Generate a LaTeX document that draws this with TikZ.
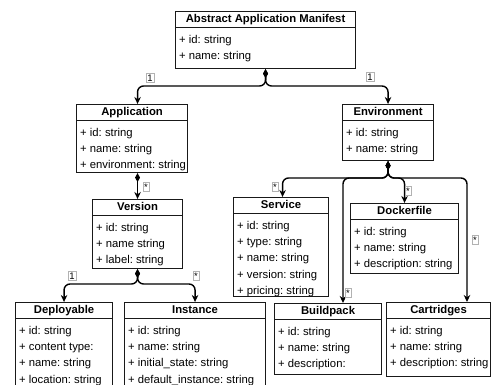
\documentclass[tikz,border=0pt]{standalone}
\usepackage{fontspec}
\setmainfont{Liberation Sans}
\usetikzlibrary{arrows.meta,calc}
\frenchspacing
\tikzset{
 classbox/.style={draw=black!90, line width=1.1pt, anchor=north west, inner sep=0pt, fill=white},
 divline/.style={draw=black!90, line width=1pt},
 ttl/.style={font=\fontsize{11.3}{13}\selectfont\bfseries, inner sep=0pt, text height=8.2pt, text depth=2.4pt},
 attr/.style={font=\fontsize{11.3}{13}\selectfont, inner sep=0pt, anchor=west, text height=8.2pt, text depth=2.4pt},
 conn/.style={line width=1.4pt, rounded corners=6pt, {Diamond[length=9pt,width=5pt]}-{Stealth[length=7pt,width=6.5pt]}},
 mult/.style={draw=black!30, line width=0.4pt, inner sep=1.2pt, font=\fontsize{9.5}{10}\selectfont, fill=white},
}
\newcommand\umlclass[7]{%
 \node[classbox, minimum width=#4pt, minimum height=#5pt] (#1) at (#2,#3) {};
 \draw[divline] ($(#1.north west)+(0,17)$) -- ($(#1.north east)+(0,17)$);
 \node[ttl] (#1-t) at ($(#1.north)+(0,8.7)$) {#6};
 \foreach \r [count=\i, evaluate=\i as \yy using 29.3+(\i-1)*16.3] in {#7}
   \node[attr] (#1-\i) at ($(#1.north west)+(4,\yy)$) {\r};
}
\begin{document}
\begin{tikzpicture}[x=1pt,y=-1pt]
\useasboundingbox (0,0) rectangle (491,385);
\clip (0,0) rectangle (491,385);
% classes
\umlclass{abs}{175}{11}{180}{57}{Abstract Application Manifest}{+ id: string,+ name: string}
\umlclass{app}{76}{104}{111}{68}{Application}{+ id: string,+ name: string,+ environment: string}
\umlclass{env}{342}{104}{91}{56}{Environment}{+ id: string,+ name: string}
\umlclass{ver}{92}{199}{90}{69}{Version}{+ id: string,+ name string,+ label: string}
\umlclass{svc}{233}{197}{95}{99}{Service}{+ id: string,+ type: string,+ name: string,+ version: string,+ pricing: string}
\umlclass{dock}{350}{203}{108}{70}{Dockerfile}{+ id: string,+ name: string,+ description: string}
\umlclass{dep}{15}{302}{97}{100}{Deployable}{+ id: string,+ content type:,+ name: string,+ location: string}
\umlclass{inst}{124}{302}{141}{100}{Instance}{+ id: string,+ name: string,+ initial\_state: string,+ default\_instance: string}
\umlclass{build}{274}{303}{107}{71}{Buildpack}{+ id: string,+ name: string,+ description:}
\umlclass{cart}{386}{302}{104}{74}{Cartridges}{+ id: string,+ name: string,+ description: string}
% connectors
\draw[conn] (abs.south) -- (abs.south |- 0,86) -| (ver.north |- app.north);
\draw[conn] (abs.south) -- (abs.south |- 0,86) -| (env.north);
\draw[conn] (ver.north |- app.south) -- (ver.north);
\draw[conn] (ver.south) -- (ver.south |- 0,284) -| (dep.north);
\draw[conn] (ver.south) -- (ver.south |- 0,284) -| (inst.north);
\draw[conn] (env.south) -- (env.south |- 0,178) -| ($(svc.north)+(1.5,0)$);
\draw[conn] (env.south) -- (env.south |- 0,178) -| (dock.north);
\draw[conn] (env.south) -- (env.south |- 0,178) -| ($(build.north west)+(69,0)$);
\draw[conn] (env.south) -- (env.south |- 0,178) -| ($(cart.north west)+(81,0)$);
% multiplicities
\node[mult] (m1) at (150,78) {1};
\node[mult] (m2) at (370,77) {1};
\node[mult] (m3) at (146,187) {*};
\node[mult] (m4) at (72,276) {1};
\node[mult] (m5) at (196,276) {*};
\node[mult] (m6) at (275,187) {*};
\node[mult] (m7) at (408,191) {*};
\node[mult] (m8) at (348,293) {*};
\node[mult] (m9) at (475,240) {*};
\end{tikzpicture}
\end{document}
